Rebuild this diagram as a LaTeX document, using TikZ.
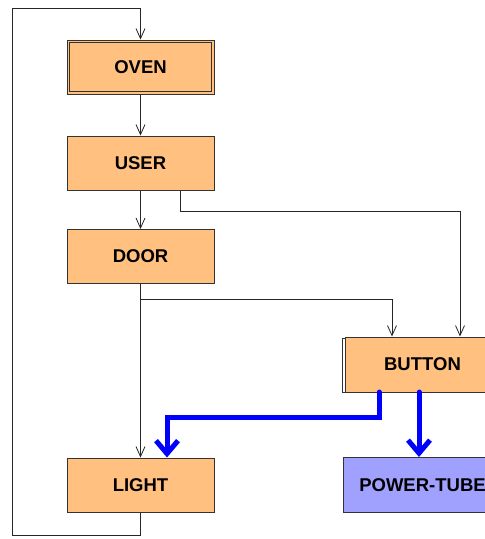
\documentclass[tikz,border=0pt]{standalone}
\usepackage{fontspec}
\setmainfont{Liberation Sans}
\usetikzlibrary{arrows.meta}
\definecolor{boxorange}{HTML}{FFC080}
\definecolor{boxblue}{HTML}{A0A0FF}
\definecolor{edgegray}{HTML}{333333}
\begin{document}
\begin{tikzpicture}[x=1pt,y=-1pt,
  box/.style={draw=edgegray,line width=1pt,fill=boxorange,minimum width=147pt,minimum height=54pt,inner sep=0pt,
    font=\fontsize{18.5}{20}\selectfont\bfseries},
  thin/.style={draw=black!85,line width=0.8pt},
  arr/.style={thin,-{Straight Barb[length=10pt,width=9pt,line width=0.8pt]}},
  bluearr/.style={draw=blue,line width=5pt,-{Straight Barb[length=13pt,width=22pt,line width=5pt]}}]
\useasboundingbox (0,0) rectangle (485,539);
\fill[white] (0,0) rectangle (485,539);
% nodes
\node[box] (oven) at (140.5,67) {OVEN};
\draw[edgegray,line width=1pt] ([shift={(3pt,3pt)}]oven.south west) rectangle ([shift={(-3pt,-3pt)}]oven.north east);
\node[box] (user) at (140.5,163) {USER};
\node[box] (door) at (140.5,256.5) {DOOR};
\draw[edgegray,line width=1pt,fill=white] (342,338) rectangle (495,392.5);
\node[box,minimum width=155pt,minimum height=55pt] (button) at (422.5,364.5) {BUTTON};
\node[box] (light) at (140.5,485) {LIGHT};
\node[box,fill=boxblue,minimum width=158pt,minimum height=55pt] (power) at (422.5,485) {POWER-TUBE};
% coordinates
\coordinate (lb) at (140.5,535);
\coordinate (ll) at (12,535);
\coordinate (tl) at (12,8);
\coordinate (tr) at (140.5,8);
\coordinate (u0) at (180,190.5);
\coordinate (u1) at (180,211.5);
\coordinate (u2) at (460,211.5);
\coordinate (d0) at (140.5,299);
\coordinate (d1) at (392,299);
\coordinate (b0) at (379,392);
\coordinate (b1) at (379,417);
\coordinate (b2) at (167,417);
\coordinate (b3) at (419,392);
% connectors
\draw[arr] (light.south) -- (lb) -- (ll) -- (tl) -- (tr) -- (oven.north);
\draw[arr] (oven.south) -- (user.north);
\draw[arr] (user.south) -- (door.north);
\draw[arr] (u0) -- (u1) -- (u2) -- (u2 |- button.north);
\draw[arr] (door.south) -- (light.north);
\draw[arr] (d0) -- (d1) -- (d1 |- button.north);
\draw[bluearr,line cap=round] (b0) -- (b1) -- (b2) -- (b2 |- light.north);
\draw[bluearr,line cap=round] (b3) -- (b3 |- power.north);
\end{tikzpicture}
\end{document}
